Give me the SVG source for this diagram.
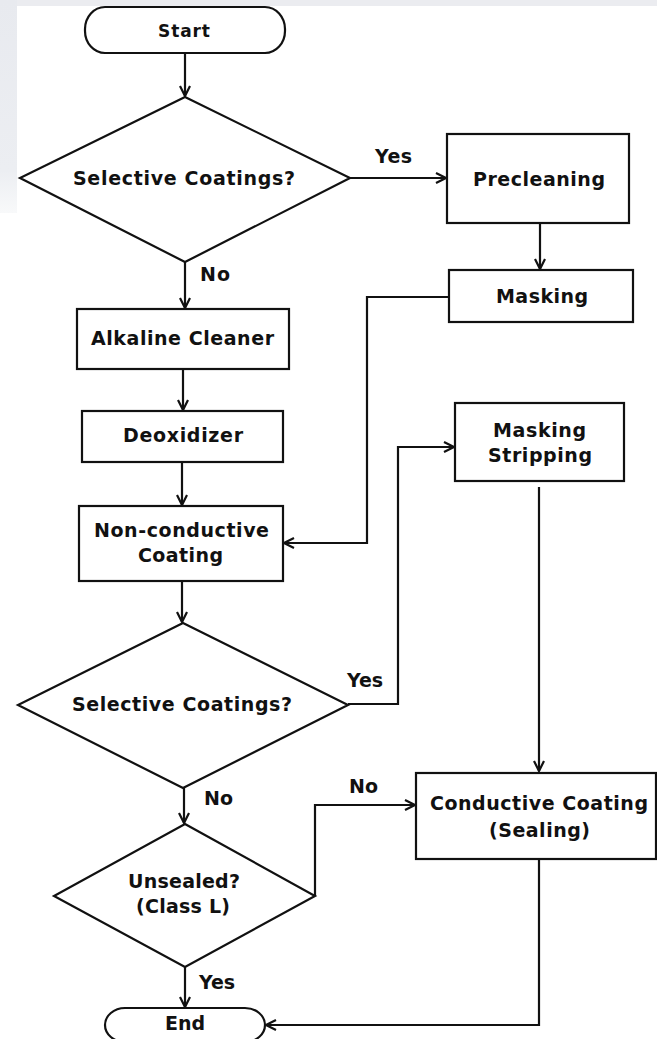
<svg xmlns="http://www.w3.org/2000/svg" width="657" height="1039" viewBox="0 0 657 1039">
<defs>
<linearGradient id="bgfade" x1="0" y1="0" x2="0" y2="1">
<stop offset="0" stop-color="#e8eaef"/>
<stop offset="0.8" stop-color="#eceef2"/>
<stop offset="1" stop-color="#f8f9fa"/>
</linearGradient>
<marker id="arr" markerUnits="userSpaceOnUse" markerWidth="14" markerHeight="14" viewBox="-1 -7 13 14" refX="10" refY="0" orient="auto">
<path d="M0,-5 L10,0 L0,5" fill="none" stroke="#111" stroke-width="2.2"/>
</marker>
<style>
.shape{fill:#fff;stroke:#111;stroke-width:2.2}
.line{fill:none;stroke:#111;stroke-width:2.2}
text{font-family:"DejaVu Sans","Liberation Sans",sans-serif;font-weight:bold;font-size:19px;fill:#111}
.small{font-size:17px}
</style>
</defs>
<rect x="0" y="0" width="657" height="1039" fill="#fff"/>
<rect x="0" y="0" width="657" height="6" fill="#ebecf0"/>
<rect x="0" y="0" width="17" height="213" fill="url(#bgfade)"/>

<g id="connectors">
<path class="line" d="M185,53 V96" marker-end="url(#arr)"/>
<path class="line" d="M350,178 H446" marker-end="url(#arr)"/>
<path class="line" d="M185,262 V308" marker-end="url(#arr)"/>
<path class="line" d="M540,223 V269" marker-end="url(#arr)"/>
<path class="line" d="M449,297 H367 V543 H284" marker-end="url(#arr)"/>
<path class="line" d="M183,369 V410" marker-end="url(#arr)"/>
<path class="line" d="M182,462 V505" marker-end="url(#arr)"/>
<path class="line" d="M182,581 V622" marker-end="url(#arr)"/>
<path class="line" d="M348,704 H398 V447 H454" marker-end="url(#arr)"/>
<path class="line" d="M539,487 V771" marker-end="url(#arr)"/>
<path class="line" d="M184,788 V823" marker-end="url(#arr)"/>
<path class="line" d="M315,896 V805 H415" marker-end="url(#arr)"/>
<path class="line" d="M185,967 V1007" marker-end="url(#arr)"/>
<path class="line" d="M539,859 V1025 H266" marker-end="url(#arr)"/>
<text x="375" y="163" textLength="37" lengthAdjust="spacing">Yes</text>
<text x="200" y="281" textLength="30" lengthAdjust="spacing">No</text>
<text x="347" y="687" textLength="36" lengthAdjust="spacing">Yes</text>
<text x="204" y="805" textLength="29" lengthAdjust="spacing">No</text>
<text x="349" y="793" textLength="29" lengthAdjust="spacing">No</text>
<text x="199" y="989" textLength="36" lengthAdjust="spacing">Yes</text>
</g>

<g id="start">
<rect class="shape" x="85" y="7" width="200" height="46" rx="20" ry="22"/>
<text class="small" x="158" y="37" textLength="52" lengthAdjust="spacing">Start</text>
</g>

<g id="decision1">
<polygon class="shape" points="185,97 350,178 185,262 20,178"/>
<text x="73" y="185" textLength="222" lengthAdjust="spacing">Selective Coatings?</text>
</g>

<g id="precleaning">
<rect class="shape" x="447" y="134" width="182" height="89"/>
<text x="473" y="186" textLength="132" lengthAdjust="spacing">Precleaning</text>
</g>

<g id="masking">
<rect class="shape" x="449" y="270" width="184" height="52"/>
<text x="496" y="303" textLength="92" lengthAdjust="spacing">Masking</text>
</g>

<g id="alkaline">
<rect class="shape" x="77" y="309" width="212" height="60"/>
<text x="91" y="345" textLength="183" lengthAdjust="spacing">Alkaline Cleaner</text>
</g>

<g id="deoxidizer">
<rect class="shape" x="82" y="411" width="201" height="51"/>
<text x="123" y="442" textLength="120" lengthAdjust="spacing">Deoxidizer</text>
</g>

<g id="nonconductive">
<rect class="shape" x="79" y="506" width="204" height="75"/>
<text x="94" y="537" textLength="175" lengthAdjust="spacing">Non-conductive</text>
<text x="138" y="562" textLength="85" lengthAdjust="spacing">Coating</text>
</g>

<g id="maskingstripping">
<rect class="shape" x="455" y="403" width="169" height="78"/>
<text x="493" y="437" textLength="93" lengthAdjust="spacing">Masking</text>
<text x="488" y="462" textLength="104" lengthAdjust="spacing">Stripping</text>
</g>

<g id="decision2">
<polygon class="shape" points="183,623 348,705 183,788 18,705"/>
<text x="72" y="711" textLength="220" lengthAdjust="spacing">Selective Coatings?</text>
</g>

<g id="conductive">
<rect class="shape" x="416" y="773" width="240" height="86"/>
<text x="430" y="810" textLength="218" lengthAdjust="spacing">Conductive Coating</text>
<text x="489" y="837" textLength="101" lengthAdjust="spacing">(Sealing)</text>
</g>

<g id="decision3">
<polygon class="shape" points="185,824 315,896 185,967 54,896"/>
<text x="128" y="888" textLength="112" lengthAdjust="spacing">Unsealed?</text>
<text x="136" y="913" textLength="94" lengthAdjust="spacing">(Class L)</text>
</g>

<g id="end">
<rect class="shape" x="105" y="1008" width="160" height="34" rx="20" ry="17"/>
<text x="165" y="1030" textLength="40" lengthAdjust="spacing">End</text>
</g>
</svg>
